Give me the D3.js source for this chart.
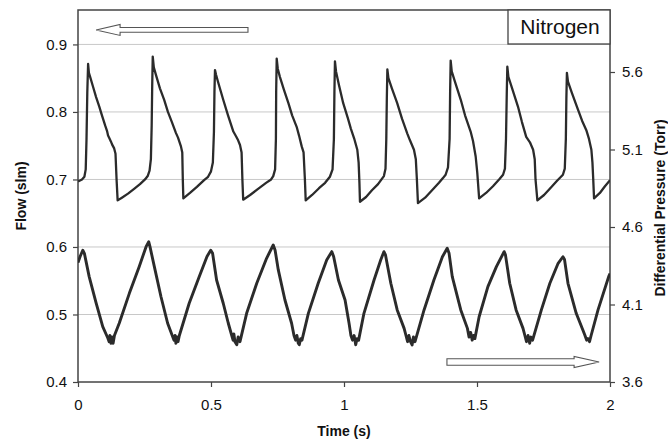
<!DOCTYPE html>
<html><head><meta charset="utf-8">
<script src="https://cdn.jsdelivr.net/npm/d3@7/dist/d3.min.js"></script>
<style>
body{margin:0;background:#fff;}
svg text{font-family:"Liberation Sans",Arial,sans-serif;fill:#111;}
</style></head>
<body><svg id="chart" width="668" height="441"></svg>
<script>
// ---- data ----
const flowTicks = [0.4, 0.5, 0.6, 0.7, 0.8, 0.9];
const pressureTicks = [3.6, 4.1, 4.6, 5.1, 5.6];
const timeTicks = [0, 0.5, 1, 1.5, 2];
const legendLabel = "Nitrogen";

// Flow (slm), left axis: [time s, flow]
const flowSeries = [
[0,0.697],[0.015,0.700],[0.024,0.704],[0.029,0.715],[0.032,0.76],[0.035,0.83],[0.038,0.871],[0.041,0.858],[0.047,0.850],[0.056,0.838],[0.068,0.822],[0.080,0.808],[0.090,0.795],[0.102,0.780],[0.109,0.772],[0.113,0.765],[0.118,0.761],[0.124,0.756],[0.128,0.752],[0.136,0.746],[0.141,0.738],[0.145,0.700],[0.149,0.669],
[0.165,0.673],[0.188,0.679],[0.211,0.686],[0.233,0.693],[0.252,0.700],[0.262,0.705],[0.269,0.713],[0.274,0.73],[0.277,0.78],[0.279,0.84],[0.281,0.882],
[0.285,0.866],[0.293,0.855],[0.308,0.835],[0.324,0.818],[0.338,0.800],[0.353,0.785],[0.368,0.769],[0.376,0.762],[0.387,0.749],[0.392,0.740],[0.394,0.700],[0.396,0.672],
[0.421,0.680],[0.447,0.689],[0.474,0.699],[0.489,0.704],[0.500,0.712],[0.507,0.725],[0.511,0.77],[0.513,0.83],[0.515,0.862],
[0.519,0.855],[0.526,0.845],[0.546,0.818],[0.564,0.795],[0.584,0.771],[0.594,0.764],[0.602,0.758],[0.609,0.751],[0.615,0.740],[0.618,0.700],[0.621,0.670],
[0.647,0.677],[0.677,0.686],[0.707,0.695],[0.726,0.700],[0.734,0.705],[0.741,0.715],[0.744,0.76],[0.745,0.83],[0.747,0.879],
[0.751,0.864],[0.759,0.852],[0.774,0.833],[0.791,0.813],[0.805,0.795],[0.822,0.778],[0.831,0.765],[0.841,0.749],[0.848,0.740],[0.853,0.700],[0.856,0.669],
[0.880,0.677],[0.906,0.687],[0.929,0.695],[0.947,0.704],[0.957,0.715],[0.962,0.76],[0.964,0.83],[0.966,0.875],
[0.970,0.860],[0.981,0.840],[0.997,0.813],[1.015,0.790],[1.026,0.775],[1.038,0.761],[1.050,0.744],[1.055,0.725],[1.058,0.695],[1.060,0.667],
[1.083,0.674],[1.105,0.684],[1.128,0.693],[1.150,0.705],[1.156,0.716],[1.159,0.76],[1.161,0.82],[1.163,0.863],
[1.167,0.850],[1.180,0.835],[1.200,0.813],[1.218,0.790],[1.238,0.768],[1.248,0.758],[1.263,0.744],[1.270,0.730],[1.274,0.700],[1.278,0.665],
[1.305,0.673],[1.331,0.684],[1.357,0.695],[1.372,0.702],[1.382,0.707],[1.391,0.718],[1.397,0.76],[1.399,0.83],[1.401,0.876],
[1.405,0.860],[1.417,0.845],[1.439,0.818],[1.455,0.795],[1.476,0.771],[1.485,0.757],[1.495,0.734],[1.501,0.710],[1.508,0.672],
[1.534,0.680],[1.560,0.690],[1.583,0.700],[1.598,0.707],[1.605,0.716],[1.609,0.76],[1.612,0.83],[1.614,0.867],
[1.618,0.852],[1.632,0.835],[1.654,0.808],[1.669,0.785],[1.685,0.763],[1.699,0.755],[1.711,0.744],[1.717,0.730],[1.720,0.700],[1.727,0.669],
[1.752,0.677],[1.778,0.688],[1.801,0.698],[1.823,0.707],[1.830,0.716],[1.834,0.76],[1.836,0.82],[1.838,0.858],
[1.842,0.845],[1.857,0.828],[1.880,0.803],[1.895,0.787],[1.911,0.773],[1.921,0.760],[1.930,0.744],[1.934,0.725],[1.937,0.700],[1.940,0.672],
[1.962,0.680],[1.981,0.690],[2.000,0.699]
];

// Differential pressure (Torr), right axis: [time s, pressure]
const pressureSeries = [
[0,4.37],[0.008,4.41],[0.018,4.45],[0.024,4.43],[0.030,4.38],[0.042,4.28],[0.068,4.11],[0.093,3.957],[0.112,3.884],
[0.117,3.86],[0.120,3.90],[0.124,3.85],[0.128,3.89],[0.132,3.85],[0.137,3.90],
[0.155,3.979],[0.193,4.172],[0.230,4.344],[0.256,4.473],[0.266,4.505],[0.271,4.47],[0.287,4.344],[0.312,4.15],[0.337,3.979],[0.356,3.892],
[0.361,3.87],[0.365,3.90],[0.368,3.85],[0.372,3.89],[0.376,3.86],[0.381,3.90],
[0.418,4.108],[0.456,4.28],[0.485,4.41],[0.499,4.45],[0.506,4.43],[0.521,4.258],[0.546,4.108],[0.565,3.979],
[0.578,3.90],[0.583,3.87],[0.586,3.91],[0.590,3.86],[0.597,3.84],[0.602,3.89],[0.609,3.86],
[0.634,4.043],[0.672,4.237],[0.709,4.398],[0.734,4.484],[0.741,4.45],[0.753,4.323],[0.778,4.129],[0.803,3.979],
[0.812,3.90],[0.818,3.87],[0.823,3.90],[0.828,3.85],[0.832,3.84],[0.837,3.88],[0.842,3.87],
[0.866,4.043],[0.903,4.237],[0.935,4.387],[0.954,4.441],[0.961,4.41],[0.979,4.258],[1.004,4.129],[1.019,3.979],
[1.026,3.90],[1.032,3.87],[1.038,3.90],[1.044,3.84],[1.049,3.88],[1.055,3.87],
[1.075,4.043],[1.113,4.258],[1.138,4.387],[1.150,4.441],[1.156,4.42],[1.176,4.237],[1.200,4.065],[1.226,3.946],
[1.233,3.90],[1.239,3.86],[1.244,3.90],[1.250,3.86],[1.256,3.839],[1.261,3.89],[1.267,3.86],
[1.301,4.065],[1.338,4.258],[1.370,4.408],[1.388,4.463],[1.395,4.43],[1.407,4.28],[1.439,4.065],[1.464,3.946],
[1.470,3.89],[1.476,3.92],[1.482,3.87],[1.487,3.90],[1.492,3.88],
[1.508,4.021],[1.541,4.215],[1.573,4.344],[1.602,4.441],[1.607,4.42],[1.623,4.237],[1.647,4.065],[1.673,3.946],
[1.680,3.90],[1.686,3.86],[1.692,3.90],[1.698,3.85],[1.703,3.89],[1.709,3.87],
[1.742,4.065],[1.774,4.237],[1.805,4.366],[1.823,4.408],[1.829,4.39],[1.842,4.237],[1.873,4.043],[1.898,3.935],
[1.906,3.90],[1.912,3.87],[1.917,3.88],[1.923,3.86],[1.929,3.90],
[1.955,4.065],[1.995,4.28],[2.000,4.30]
];

// direction arrows: [tail time, tip time, value on own axis]
const flowArrow = [0.639, 0.068, 0.9215];
const pressureArrow = [1.387, 1.959, 3.729];

// ---- layout ----
const M = {left:78, top:10, right:610, bottom:382};
const svg = d3.select("#chart");
const x = d3.scaleLinear().domain([0,2]).range([M.left, M.right]);
const yL = d3.scaleLinear().domain([0.4,0.951]).range([M.bottom, M.top]);
const yR = d3.scaleLinear().domain([3.6,6.0]).range([M.bottom, M.top]);

// gridlines
svg.append("g").selectAll("line").data(flowTicks.slice(1)).join("line")
  .attr("x1",M.left).attr("x2",M.right)
  .attr("y1",d=>yL(d)).attr("y2",d=>yL(d))
  .attr("stroke","#c8c8c8").attr("stroke-width",1);

const font = '"Liberation Sans",Arial,sans-serif';
function styleAxis(g){
  g.selectAll("path.domain").remove();
  g.selectAll(".tick line").attr("stroke","#444").attr("stroke-width",1.2);
  g.selectAll(".tick text").attr("font-family",font).attr("font-size",15).attr("fill","#111");
}
// left axis
svg.append("g").attr("transform",`translate(${M.left},0)`)
  .call(d3.axisLeft(yL).tickValues(flowTicks).tickFormat(d3.format(".1f")).tickSize(5).tickPadding(6))
  .call(styleAxis);
// right axis
svg.append("g").attr("transform",`translate(${M.right},0)`)
  .call(d3.axisRight(yR).tickValues(pressureTicks).tickFormat(d3.format(".1f")).tickSize(5).tickPadding(7))
  .call(styleAxis);
// bottom axis
svg.append("g").attr("transform",`translate(0,${M.bottom})`)
  .call(d3.axisBottom(x).tickValues(timeTicks).tickFormat(d=>String(d)).tickSize(5).tickPadding(12))
  .call(styleAxis);

// frame
svg.append("rect").attr("x",M.left).attr("y",M.top)
  .attr("width",M.right-M.left).attr("height",M.bottom-M.top)
  .attr("fill","none").attr("stroke","#444").attr("stroke-width",1.5);

// series
const clip = svg.append("clipPath").attr("id","clip").append("rect")
  .attr("x",M.left).attr("y",M.top).attr("width",M.right-M.left).attr("height",M.bottom-M.top);
svg.append("path").datum(pressureSeries)
  .attr("clip-path","url(#clip)")
  .attr("d",d3.line().x(d=>x(d[0])).y(d=>yR(d[1])))
  .attr("fill","none").attr("stroke","#2b2b2b").attr("stroke-width",2.9).attr("stroke-linejoin","round");
svg.append("path").datum(flowSeries)
  .attr("clip-path","url(#clip)")
  .attr("d",d3.line().x(d=>x(d[0])).y(d=>yL(d[1])))
  .attr("fill","none").attr("stroke","#2b2b2b").attr("stroke-width",2.3).attr("stroke-linejoin","round");

// arrows (hollow block arrows)
function blockArrow(x0, x1, yc, shaftH, headH, headL){
  const dir = Math.sign(x1-x0);
  const hb = x1 - dir*headL;
  const pts = [[x0,yc-shaftH],[hb,yc-shaftH],[hb,yc-headH],[x1,yc],[hb,yc+headH],[hb,yc+shaftH],[x0,yc+shaftH]];
  svg.append("path").attr("d","M"+pts.map(p=>p.join(",")).join("L")+"Z")
    .attr("fill","#fff").attr("stroke","#555").attr("stroke-width",1.1);
}
blockArrow(x(flowArrow[0]), x(flowArrow[1]), yL(flowArrow[2]), 2.4, 5.5, 24);
blockArrow(x(pressureArrow[0]), x(pressureArrow[1]), yR(pressureArrow[2]), 3.2, 5.5, 25);

// legend box
const lgW = 102, lgH = 34;
svg.append("rect").attr("x",M.right-lgW).attr("y",M.top).attr("width",lgW).attr("height",lgH)
  .attr("fill","#fff").attr("stroke","#444").attr("stroke-width",1.3);
svg.append("text").attr("x",M.right-lgW/2+1).attr("y",M.top+24)
  .attr("text-anchor","middle").attr("font-size",21).text(legendLabel);

// titles
svg.append("text").attr("x",(M.left+M.right)/2).attr("y",436)
  .attr("text-anchor","middle").attr("font-size",14).attr("font-weight","bold").text("Time (s)");
svg.append("text").attr("transform",`translate(26,${(M.top+M.bottom)/2}) rotate(-90)`)
  .attr("text-anchor","middle").attr("font-size",14).attr("font-weight","bold").text("Flow (slm)");
svg.append("text").attr("transform",`translate(665,${(M.top+M.bottom)/2+12}) rotate(-90)`)
  .attr("text-anchor","middle").attr("font-size",14).attr("font-weight","bold").text("Differential Pressure (Torr)");
</script>
</body></html>
